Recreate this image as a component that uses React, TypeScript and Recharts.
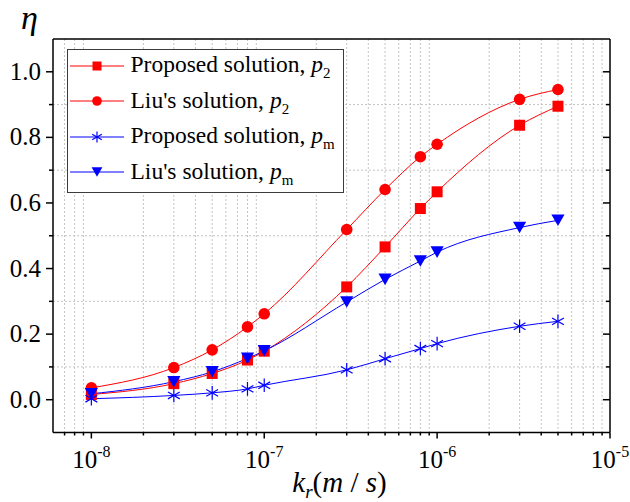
import React from 'react';
import { LineChart, Line, XAxis, YAxis, CartesianGrid, Legend } from 'recharts';

// hydraulic conductivity k_r (m/s)
const kr = [1e-8, 3e-8, 5e-8, 8e-8, 1e-7, 3e-7, 5e-7, 8e-7, 1e-6, 3e-6, 5e-6];
const proposedP2 = [0.016, 0.049, 0.08, 0.121, 0.148, 0.344, 0.466, 0.583, 0.634, 0.837, 0.895];
const liuP2 = [0.036, 0.098, 0.152, 0.222, 0.262, 0.519, 0.641, 0.741, 0.779, 0.916, 0.946];
const proposedPm = [0.003, 0.013, 0.021, 0.033, 0.044, 0.091, 0.125, 0.156, 0.171, 0.224, 0.239];
const liuPm = [0.018, 0.055, 0.085, 0.126, 0.149, 0.298, 0.367, 0.423, 0.45, 0.525, 0.547];

const xMajorTicks = [1e-8, 1e-7, 1e-6, 1e-5];
const xMinorTicks = [
  7e-9, 8e-9, 9e-9,
  2e-8, 3e-8, 4e-8, 5e-8, 6e-8, 7e-8, 8e-8, 9e-8,
  2e-7, 3e-7, 4e-7, 5e-7, 6e-7, 7e-7, 8e-7, 9e-7,
  2e-6, 3e-6, 4e-6, 5e-6, 6e-6, 7e-6, 8e-6, 9e-6,
];
const yMajorTicks = [0, 0.2, 0.4, 0.6, 0.8, 1.0];
const yMinorTicks = [0.1, 0.3, 0.5, 0.7, 0.9];

const legendNames = ['Proposed solution, ', "Liu's solution, ", 'Proposed solution, ', "Liu's solution, "];
const legendSubs = ['2', '2', 'm', 'm'];

const X_DOMAIN = [6e-9, 1e-5];
const Y_DOMAIN = [-0.1, 1.1];
const RED = '#ff0000';
const BLUE = '#0000ff';
const SERIF = 'Liberation Serif';
const AXIS = { stroke: '#000', strokeWidth: 1.5 };
const THIN = 0.01; // mirror axes need a positive size to be drawn

const allXTicks = [...xMajorTicks, ...xMinorTicks].sort((a, b) => a - b);
const allYTicks = [...yMajorTicks, ...yMinorTicks].sort((a, b) => a - b);

const data = kr.map((k, i) => ({
  kr: k,
  proposedP2: proposedP2[i],
  liuP2: liuP2[i],
  proposedPm: proposedPm[i],
  liuPm: liuPm[i],
}));

type Shape = 'square' | 'circle' | 'star' | 'triangle';
const shapes: Shape[] = ['square', 'circle', 'star', 'triangle'];
const colors = [RED, RED, BLUE, BLUE];

function Marker({ shape, cx, cy, color, s }: { shape: Shape; cx: number; cy: number; color: string; s: number }) {
  if (shape === 'square') {
    return <rect x={cx - s / 2} y={cy - s / 2} width={s} height={s} fill={color} />;
  }
  if (shape === 'circle') {
    return <circle cx={cx} cy={cy} r={s / 2 + 0.3} fill={color} />;
  }
  if (shape === 'triangle') {
    const w = s * 1.2;
    const h = s * 1.05;
    return (
      <polygon
        points={`${cx - w / 2},${cy - h / 2} ${cx + w / 2},${cy - h / 2} ${cx},${cy + h / 2}`}
        fill={color}
      />
    );
  }
  const r = s * 0.62;
  const dx = r * Math.cos(Math.PI / 6);
  const dy = r * Math.sin(Math.PI / 6);
  return (
    <g stroke={color} strokeWidth={1.2}>
      <line x1={cx} y1={cy - r} x2={cx} y2={cy + r} />
      <line x1={cx - dx} y1={cy - dy} x2={cx + dx} y2={cy + dy} />
      <line x1={cx - dx} y1={cy + dy} x2={cx + dx} y2={cy - dy} />
    </g>
  );
}

const makeDot = (shape: Shape, color: string) => (props: any) => {
  const { cx, cy, index } = props;
  if (cx == null || cy == null) return <g key={`e${index}`} />;
  return (
    <g key={`d${index}`}>
      <Marker shape={shape} cx={cx} cy={cy} color={color} s={11} />
    </g>
  );
};

// tick renderers: tickSize/tickMargin are 0, so (x, y) is the point on the axis line
const BottomTick = ({ x, y, payload }: any) => {
  const major = xMajorTicks.includes(payload.value);
  const exp = Math.round(Math.log10(payload.value));
  return (
    <g>
      <line x1={x} y1={y} x2={x} y2={y + (major ? 6 : 3)} stroke="#000" strokeWidth={1.5} />
      {major && (
        <text x={x} y={y + 35} textAnchor="middle" fontFamily={SERIF} fontSize={25} fill="#000">
          10
          <tspan dy={-11} fontSize={16}>
            {String(exp)}
          </tspan>
        </text>
      )}
    </g>
  );
};

const TopTick = ({ x, y, payload }: any) => {
  const major = xMajorTicks.includes(payload.value);
  return <line x1={x} y1={y} x2={x} y2={y + (major ? 6 : 3)} stroke="#000" strokeWidth={1.5} />;
};

const LeftTick = ({ x, y, payload }: any) => {
  const major = yMajorTicks.includes(payload.value);
  return (
    <g>
      <line x1={x} y1={y} x2={x - (major ? 7 : 4)} y2={y} stroke="#000" strokeWidth={1.5} />
      {major && (
        <text x={x - 12} y={y + 8} textAnchor="end" fontFamily={SERIF} fontSize={25} fill="#000">
          {payload.value.toFixed(1)}
        </text>
      )}
    </g>
  );
};

const RightTick = ({ x, y, payload }: any) => {
  const major = yMajorTicks.includes(payload.value);
  return <line x1={x} y1={y} x2={x - (major ? 7 : 4)} y2={y} stroke="#000" strokeWidth={1.5} />;
};

const XTitle = ({ viewBox }: any) => {
  const cx = viewBox.x + viewBox.width / 2 + 8;
  return (
    <text x={cx} y={viewBox.y + 59} textAnchor="middle" fontFamily={SERIF} fontSize={29} fill="#000">
      <tspan fontStyle="italic">k</tspan>
      <tspan fontStyle="italic" fontSize={19} dy={6}>r</tspan>
      <tspan dy={-6}>(</tspan>
      <tspan fontStyle="italic">m</tspan>
      <tspan>{' / '}</tspan>
      <tspan fontStyle="italic">s</tspan>
      <tspan>)</tspan>
    </text>
  );
};

const YTitle = ({ viewBox }: any) => (
  <text x={viewBox.x + 21} y={viewBox.y - 10} fontFamily={SERIF} fontSize={34} fontStyle="italic" fill="#000">
    η
  </text>
);

const renderLegend = () => (
  <div
    style={{
      width: 277,
      height: 144,
      boxSizing: 'border-box',
      border: '1.5px solid #3c3c3c',
      background: '#fff',
      fontFamily: SERIF,
      fontSize: 23.5,
      color: '#000',
      position: 'relative',
    }}
  >
    <div style={{ position: 'relative', top: -2 }}>
      {legendNames.map((name, i) => (
        <div key={i} style={{ display: 'flex', alignItems: 'center', height: 35.5, whiteSpace: 'nowrap' }}>
          <svg width={56} height={20} style={{ marginLeft: 1.5, flex: 'none' }}>
            <line x1={0} y1={10} x2={54} y2={10} stroke={colors[i]} strokeWidth={1} />
            <Marker shape={shapes[i]} cx={27} cy={10} color={colors[i]} s={9} />
          </svg>
          <span style={{ marginLeft: 5, lineHeight: '26px' }}>
            {name}
            <i>p</i>
            <span style={{ fontSize: 15, position: 'relative', top: 6 }}>{legendSubs[i]}</span>
          </span>
        </div>
      ))}
    </div>
  </div>
);

const seriesKeys = ['proposedP2', 'liuP2', 'proposedPm', 'liuPm'];

export default function App() {
  return (
    <div
      style={{
        position: 'absolute',
        left: 0,
        top: 0,
        width: 630,
        height: 502,
        background: '#fff',
        fontFamily: SERIF,
      }}
    >
      <LineChart width={630} height={502} data={data} margin={{ top: 39, right: 20, bottom: 0, left: 0 }}>
        <CartesianGrid
          xAxisId="x"
          yAxisId="y"
          stroke="#c4c4c4"
          strokeDasharray="2 2"
          strokeWidth={1}
          verticalValues={xMinorTicks}
          horizontalValues={yMinorTicks}
        />
        <XAxis
          xAxisId="x"
          dataKey="kr"
          type="number"
          scale="log"
          domain={X_DOMAIN}
          allowDataOverflow
          ticks={allXTicks}
          interval={0}
          height={69.5}
          tickSize={0}
          tickMargin={0}
          tick={BottomTick}
          tickLine={false}
          axisLine={AXIS}
          label={<XTitle />}
        />
        <XAxis
          xAxisId="xTop"
          type="number"
          scale="log"
          domain={X_DOMAIN}
          allowDataOverflow
          ticks={allXTicks}
          interval={0}
          orientation="top"
          mirror
          height={THIN}
          tickSize={0}
          tickMargin={0}
          tick={TopTick}
          tickLine={false}
          axisLine={AXIS}
        />
        <YAxis
          yAxisId="y"
          type="number"
          domain={Y_DOMAIN}
          allowDataOverflow
          ticks={allYTicks}
          interval={0}
          width={53}
          tickSize={0}
          tickMargin={0}
          tick={LeftTick}
          tickLine={false}
          axisLine={AXIS}
          label={<YTitle />}
        />
        <YAxis
          yAxisId="yRight"
          type="number"
          domain={Y_DOMAIN}
          allowDataOverflow
          ticks={allYTicks}
          interval={0}
          orientation="right"
          mirror
          width={THIN}
          tickSize={0}
          tickMargin={0}
          tick={RightTick}
          tickLine={false}
          axisLine={AXIS}
        />
        <Legend
          content={renderLegend}
          layout="vertical"
          align="center"
          verticalAlign="middle"
          wrapperStyle={{ left: 67, top: 49, width: 277, height: 144 }}
        />
        {seriesKeys.map((key, i) => (
          <Line
            key={key}
            xAxisId="x"
            yAxisId="y"
            type="monotone"
            dataKey={key}
            stroke={colors[i]}
            strokeWidth={1}
            dot={makeDot(shapes[i], colors[i])}
            activeDot={false}
            isAnimationActive={false}
          />
        ))}
      </LineChart>
    </div>
  );
}
